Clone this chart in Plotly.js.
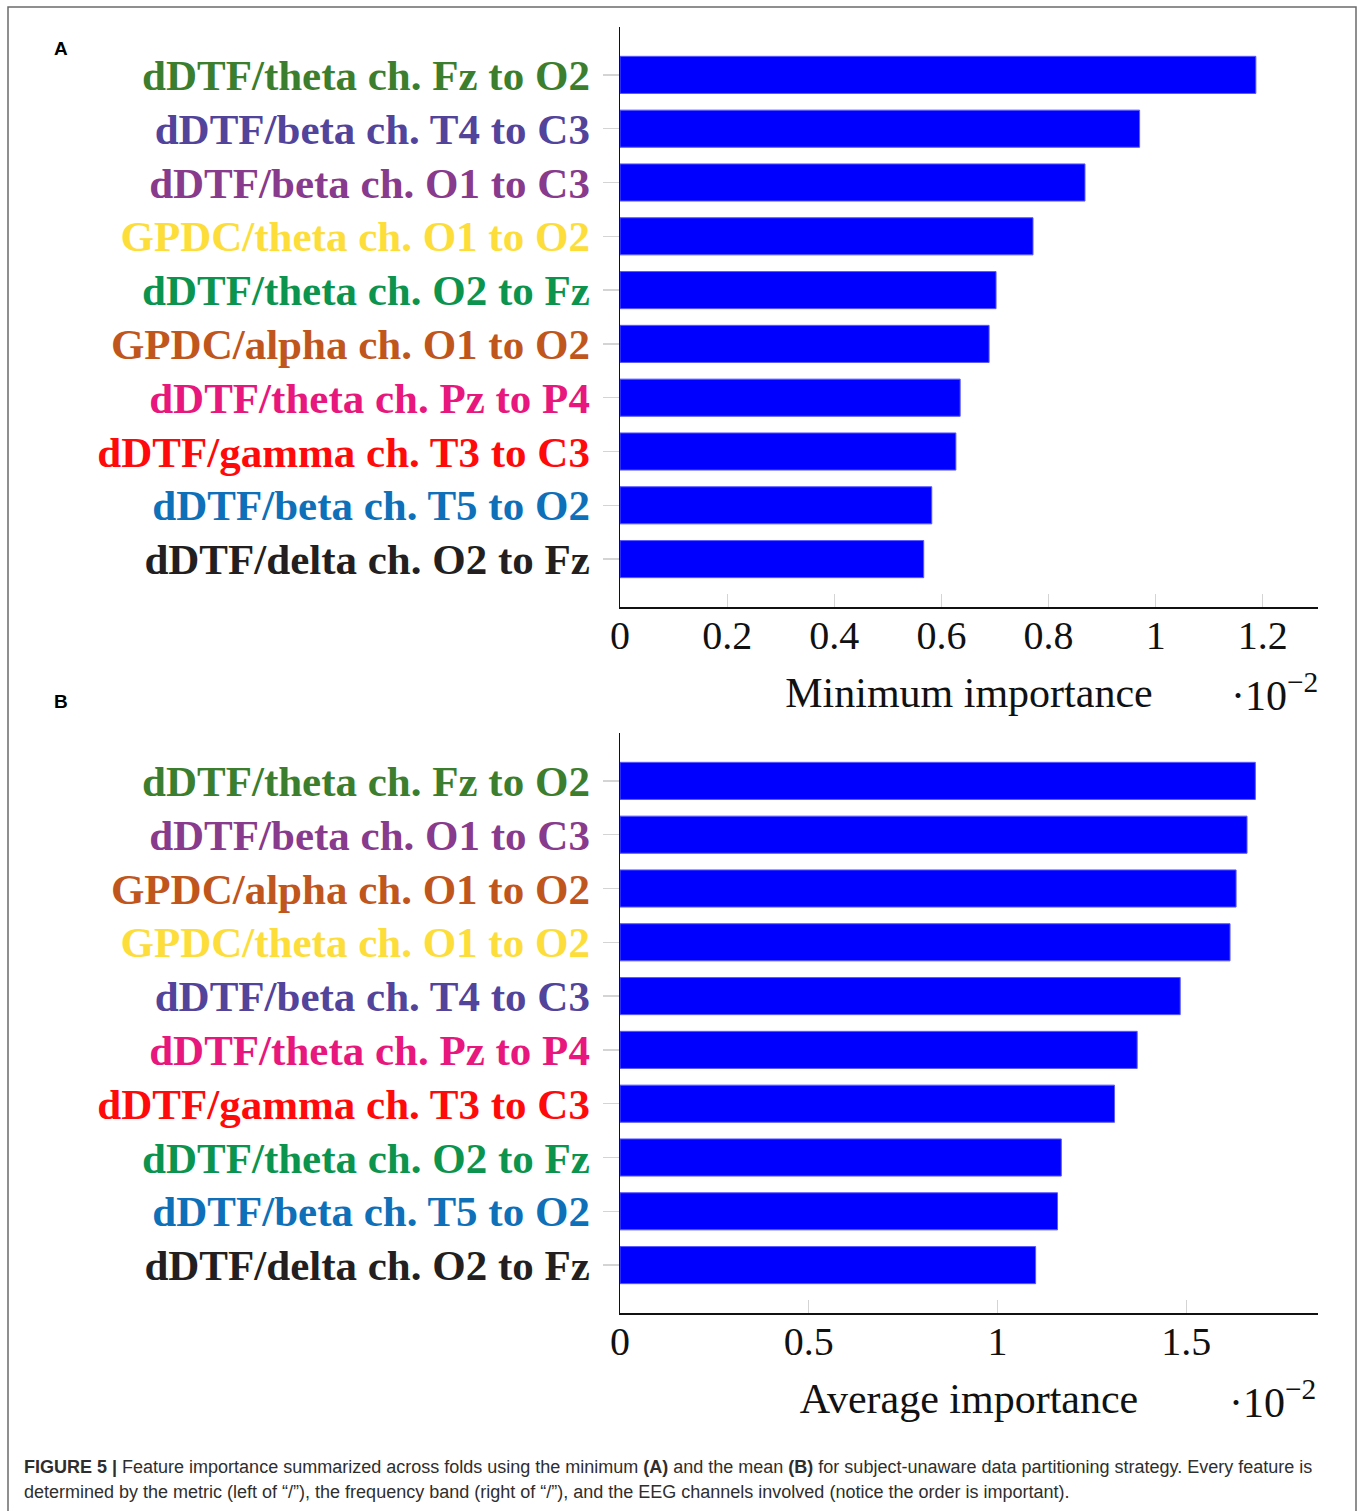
<!DOCTYPE html>
<html>
<head>
<meta charset="utf-8">
<script src="https://cdn.plot.ly/plotly-3.0.1.min.js"></script>
<style>
  html, body { margin: 0; padding: 0; background: #fff; }
  #chart { width: 1357px; height: 1511px; }
</style>
</head>
<body>
<div id="chart"></div>
<script>
// Feature labels and their colours
const featureNames = [
  'dDTF/theta ch. Fz to O2',
  'dDTF/beta ch. T4 to C3',
  'dDTF/beta ch. O1 to C3',
  'GPDC/theta ch. O1 to O2',
  'dDTF/theta ch. O2 to Fz',
  'GPDC/alpha ch. O1 to O2',
  'dDTF/theta ch. Pz to P4',
  'dDTF/gamma ch. T3 to C3',
  'dDTF/beta ch. T5 to O2',
  'dDTF/delta ch. O2 to Fz'
];
const featureColors = [
  '#3b7e2d', '#52439b', '#883a8c', '#fddd3a', '#0b944e',
  '#c0561c', '#e8177d', '#ff0a0a', '#0d70b8', '#231f20'
];

// (A) minimum importance across folds, in units of 1e-2
const featuresA = [
  'dDTF/theta ch. Fz to O2', 'dDTF/beta ch. T4 to C3', 'dDTF/beta ch. O1 to C3',
  'GPDC/theta ch. O1 to O2', 'dDTF/theta ch. O2 to Fz', 'GPDC/alpha ch. O1 to O2',
  'dDTF/theta ch. Pz to P4', 'dDTF/gamma ch. T3 to C3', 'dDTF/beta ch. T5 to O2',
  'dDTF/delta ch. O2 to Fz'
];
const minImportance = [1.187, 0.970, 0.868, 0.771, 0.702, 0.689, 0.635, 0.627, 0.582, 0.567];

// (B) mean importance across folds, in units of 1e-2
const featuresB = [
  'dDTF/theta ch. Fz to O2', 'dDTF/beta ch. O1 to C3', 'GPDC/alpha ch. O1 to O2',
  'GPDC/theta ch. O1 to O2', 'dDTF/beta ch. T4 to C3', 'dDTF/theta ch. Pz to P4',
  'dDTF/gamma ch. T3 to C3', 'dDTF/theta ch. O2 to Fz', 'dDTF/beta ch. T5 to O2',
  'dDTF/delta ch. O2 to Fz'
];
const avgImportance = [1.683, 1.661, 1.632, 1.616, 1.484, 1.370, 1.310, 1.169, 1.159, 1.101];

const xTicksA = [0, 0.2, 0.4, 0.6, 0.8, 1, 1.2];
const xTicksB = [0, 0.5, 1, 1.5];

const colorOf = {};
featureNames.forEach((n, i) => { colorOf[n] = featureColors[i]; });
const styled = list => list.map(n => `<span style="color:${colorOf[n]}">${n}</span>`);

const W = 1357, H = 1511;
const px = x => x / W;
const py = y => 1 - y / H;

const serif = "'Liberation Serif', 'Times New Roman', Times, serif";
const sans = "'Liberation Sans', Arial, Helvetica, sans-serif";

const barStyle = {
  type: 'bar', orientation: 'h',
  marker: { color: '#0000ff', line: { color: '#5a5aff', width: 1 } },
  hoverinfo: 'x+y'
};

const traces = [
  Object.assign({}, barStyle, { x: minImportance, y: featuresA, xaxis: 'x', yaxis: 'y' }),
  Object.assign({}, barStyle, { x: avgImportance, y: featuresB, xaxis: 'x2', yaxis: 'y2' })
];

function xAxis(ticks, maxVal, title, anchor) {
  return {
    domain: [px(620), px(1318)],
    anchor: anchor,
    range: [0, maxVal],
    tickmode: 'array', tickvals: ticks,
    ticks: 'inside', ticklen: 13, tickwidth: 1, tickcolor: '#d4d4d4',
    ticklabelstandoff: -8,
    tickfont: { family: serif, size: 40, color: '#111' },
    showgrid: false, zeroline: false,
    showline: true, linecolor: '#111', linewidth: 1.5,
    title: { text: title, font: { family: serif, size: 42, color: '#111' }, standoff: 21 },
    automargin: false, fixedrange: true
  };
}
function yAxis(cats, top, bottom, anchor) {
  return {
    domain: [py(bottom), py(top)],
    anchor: anchor,
    type: 'category',
    categoryorder: 'array', categoryarray: cats,
    range: [cats.length - 0.11, -0.89],
    tickmode: 'array', tickvals: cats, ticktext: styled(cats),
    ticks: 'outside', ticklen: 16, tickwidth: 1.5, tickcolor: '#d4d4d4',
    ticklabelstandoff: 4,
    tickfont: { family: serif, size: 43, weight: 'bold' },
    showgrid: false, zeroline: false,
    showline: true, linecolor: '#111', linewidth: 1.5,
    automargin: false, fixedrange: true
  };
}

const layout = {
  width: W, height: H,
  margin: { l: 0, r: 0, t: 0, b: 0 },
  paper_bgcolor: '#fff', plot_bgcolor: '#fff',
  showlegend: false,
  bargap: 0.31,
  xaxis: xAxis(xTicksA, 1.303, 'Minimum importance', 'y'),
  yaxis: yAxis(featuresA, 27, 607, 'x'),
  xaxis2: xAxis(xTicksB, 1.849, 'Average importance', 'y2'),
  yaxis2: yAxis(featuresB, 733, 1313, 'x2'),
  shapes: [
    { type: 'rect', xref: 'paper', yref: 'paper',
      x0: px(8), x1: px(1356), y0: -0.02, y1: py(7),
      line: { color: '#6b6b6b', width: 1.5 }, fillcolor: 'rgba(0,0,0,0)', layer: 'below' }
  ],
  annotations: [
    { text: '<b>A</b>', xref: 'paper', yref: 'paper', x: px(61), y: py(48),
      xanchor: 'center', yanchor: 'middle',
      showarrow: false, font: { family: sans, size: 19, color: '#000' } },
    { text: '<b>B</b>', xref: 'paper', yref: 'paper', x: px(61), y: py(701),
      xanchor: 'center', yanchor: 'middle',
      showarrow: false, font: { family: sans, size: 19, color: '#000' } },
    { text: '·10<sup>−2</sup>', xref: 'paper', yref: 'paper', x: px(1320), y: py(692),
      xanchor: 'right', yanchor: 'middle', showarrow: false,
      font: { family: serif, size: 42, color: '#111' } },
    { text: '·10<sup>−2</sup>', xref: 'paper', yref: 'paper', x: px(1318), y: py(1399),
      xanchor: 'right', yanchor: 'middle', showarrow: false,
      font: { family: serif, size: 42, color: '#111' } },
    { text: '<b>FIGURE 5 |</b> Feature importance summarized across folds using the minimum <b>(A)</b> and the mean <b>(B)</b> for subject-unaware data partitioning strategy. Every feature is',
      xref: 'paper', yref: 'paper', x: px(22), y: py(1467),
      xanchor: 'left', yanchor: 'middle', showarrow: false,
      font: { family: sans, size: 18, color: '#2e2e2e' } },
    { text: 'determined by the metric (left of “/”), the frequency band (right of “/”), and the EEG channels involved (notice the order is important).',
      xref: 'paper', yref: 'paper', x: px(22), y: py(1492),
      xanchor: 'left', yanchor: 'middle', showarrow: false,
      font: { family: sans, size: 18, color: '#2e2e2e' } }
  ]
};

Plotly.newPlot('chart', traces, layout, { staticPlot: true, displayModeBar: false });
</script>
</body>
</html>
